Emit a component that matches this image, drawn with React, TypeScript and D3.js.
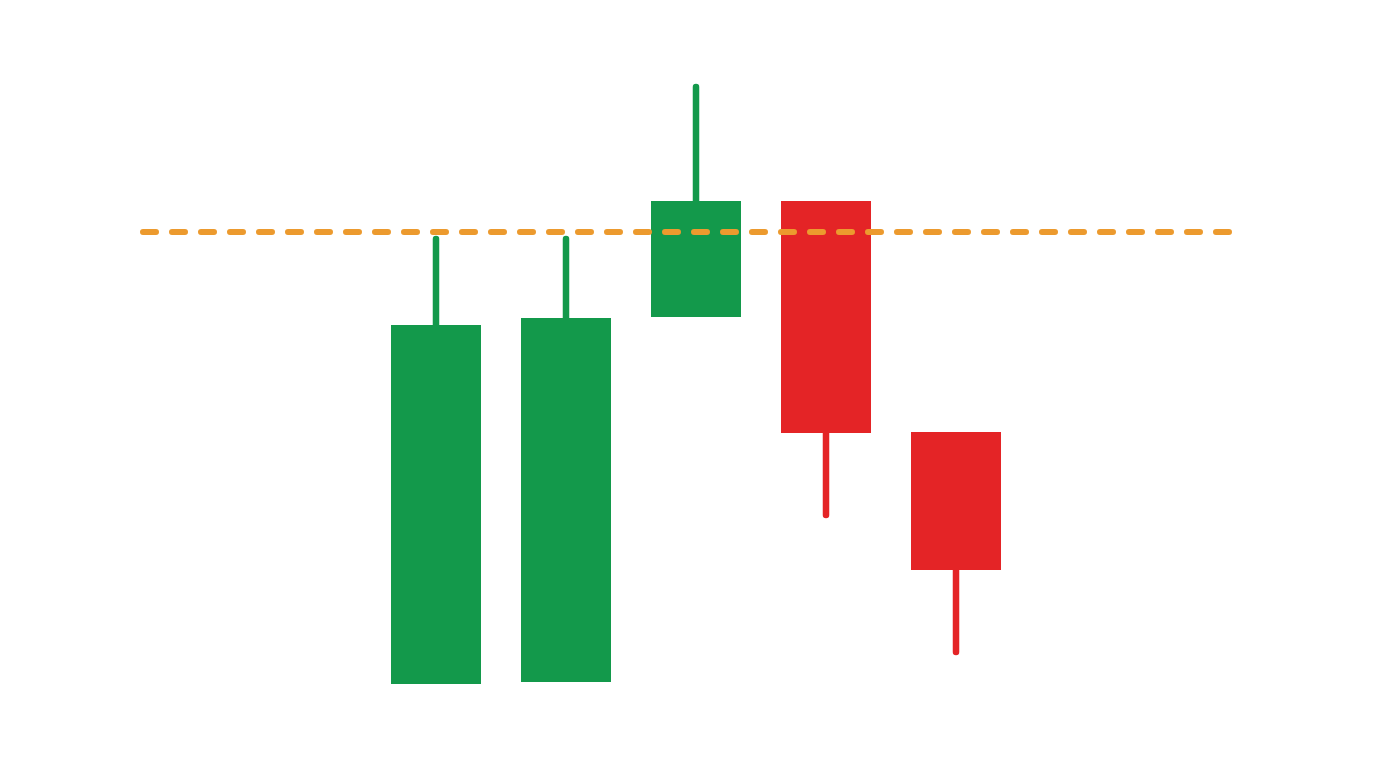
import React from "react";
import * as d3 from "d3";

const days = ["D1", "D2", "D3", "D4", "D5"];
const opens = [101.6, 101.8, 138.3, 149.9, 126.8];
const closes = [137.5, 138.2, 149.9, 126.7, 113.0];
const highs = [146.4, 146.4, 161.6, 149.9, 126.8];
const lows = [101.6, 101.8, 138.3, 118.2, 104.5];
const resistance = 146.8;

const W = 1376;
const H = 768;

export default function App() {
  const x = d3.scaleBand<string>().domain(days).range([371, 1021]).paddingInner(0.3077).paddingOuter(0.1538);
  const y = d3.scaleLinear().domain([100, 162]).range([700, 80]);
  const green = "#13994B";
  const red = "#E42426";
  const bw = x.bandwidth();

  return (
    <svg width={W} height={H} style={{ position: "absolute", left: 0, top: 0, display: "block", background: "#fff" }}>
      {days.map((d, i) => {
        const up = closes[i] >= opens[i];
        const col = up ? green : red;
        const cx = (x(d) as number) + bw / 2;
        const top = y(Math.max(opens[i], closes[i]));
        const bot = y(Math.min(opens[i], closes[i]));
        return (
          <g key={d}>
            {highs[i] > Math.max(opens[i], closes[i]) && (
              <line x1={cx} x2={cx} y1={y(highs[i]) + 3} y2={top + 3} stroke={col} strokeWidth={6.5} strokeLinecap="round" />
            )}
            {lows[i] < Math.min(opens[i], closes[i]) && (
              <line x1={cx} x2={cx} y1={bot - 3} y2={y(lows[i]) - 3} stroke={col} strokeWidth={6.5} strokeLinecap="round" />
            )}
            <rect x={x(d)} y={top} width={bw} height={bot - top} fill={col} />
          </g>
        );
      })}
      <line
        x1={143}
        x2={1237}
        y1={y(resistance)}
        y2={y(resistance)}
        stroke="#EC9A2E"
        strokeWidth={6}
        strokeDasharray="13 16"
        strokeLinecap="round"
      />
    </svg>
  );
}
